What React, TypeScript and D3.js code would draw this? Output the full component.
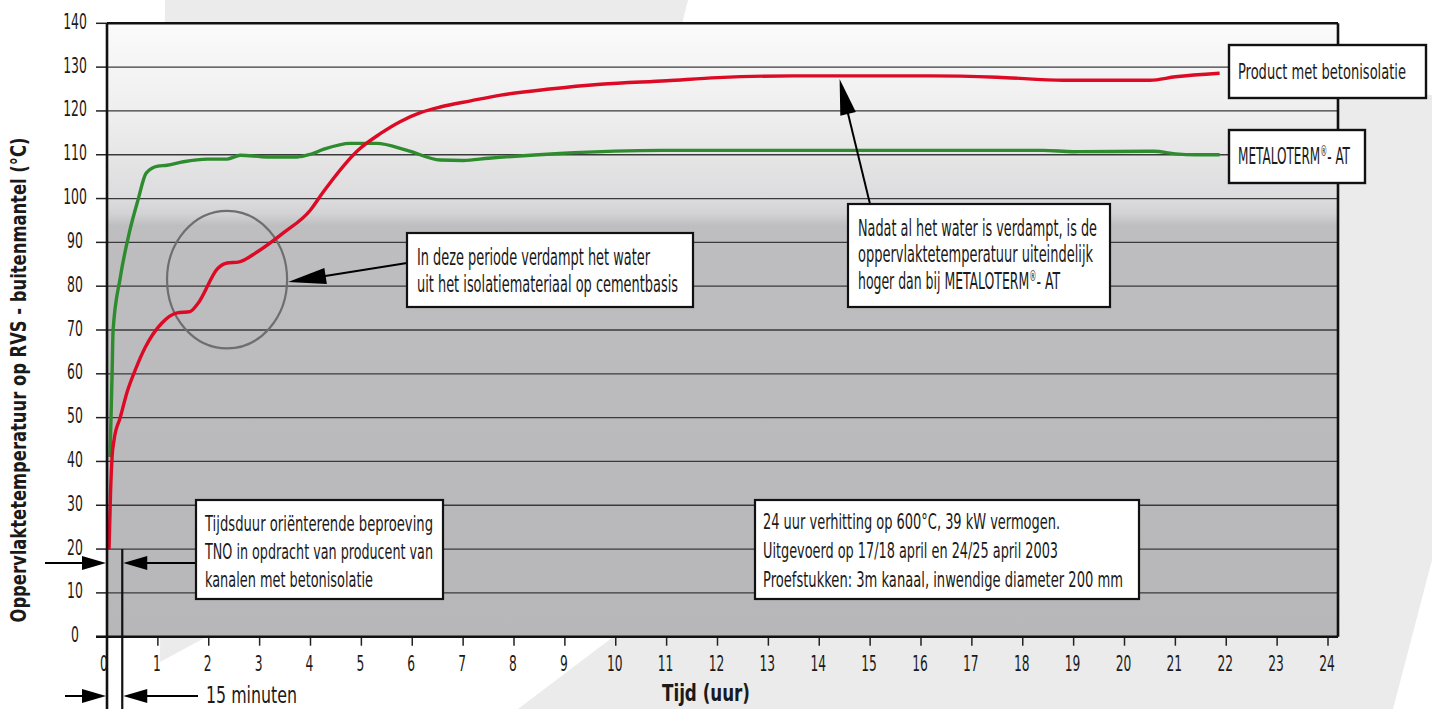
import React from "react";
import * as d3 from "d3";

const W = 1432;
const H = 709;

// ---- data ----
const xTickLabels = ["0","1","2","3","4","5","6","7","8","9","10","11","12","13","14","15","16","17","18","19","20","21","22","23","24"];
const yTickLabels = ["0","10","20","30","40","50","60","70","80","90","100","110","120","130","140"];

// Product met betonisolatie (red)
const redTime = [0.04, 0.07, 0.1, 0.14, 0.26, 0.4, 0.57, 0.75, 1.08, 1.38, 1.63, 1.79, 2.18, 2.36, 2.58, 2.95, 3.46, 4.0, 4.25, 4.94, 5.37, 5.77, 6.16, 6.55, 7.15, 7.74, 8.7, 9.7, 11.0, 12.0, 13.5, 16.2, 17.5, 18.8, 20.5, 21.0, 21.87];
const redTemp = [20, 33, 41, 45, 50, 56, 61.3, 66, 71.6, 73.9, 74.2, 76.1, 84.1, 85.3, 85.5, 87.8, 92.1, 97.4, 101.5, 111.1, 114.8, 117.6, 119.6, 120.9, 122.3, 123.6, 125, 126.1, 126.9, 127.6, 128, 128, 127.7, 127, 127, 127.8, 128.6];

// METALOTERM - AT (green)
const greenTime = [0.06, 0.1, 0.12, 0.26, 0.45, 0.61, 0.77, 1.0, 1.18, 1.5, 1.97, 2.36, 2.62, 3.15, 3.74, 4.0, 4.25, 4.78, 5.3, 5.9, 6.55, 7.0, 7.5, 8.9, 10.9, 14.0, 18.4, 19.0, 20.57, 21.0, 21.4, 21.87];
const greenTemp = [41, 60, 70, 81.9, 92.8, 99.7, 105.8, 107.4, 107.6, 108.4, 109, 109, 109.9, 109.5, 109.5, 110.1, 111.2, 112.6, 112.6, 111, 108.8, 108.7, 109.2, 110.3, 111, 111, 111, 110.7, 110.8, 110.2, 110, 110];

const FONT = "'Liberation Sans Narrow', 'DejaVu Sans Condensed', 'Roboto', 'Noto Sans', sans-serif";
const TXT = "#1a1a1a";

const x = d3.scaleLinear().domain([0, 24]).range([107, 1328]);
const y = d3.scaleLinear().domain([0, 140]).range([636.7, 23.3]);

const PL = 107, PT = 23.3, PR = 1338, PB = 636.7;

function Arrow({ x1, y1, x2, y2, head = 30, half = 8, sw = 2 }: any) {
  const dx = x2 - x1, dy = y2 - y1;
  const L = Math.hypot(dx, dy);
  const ux = dx / L, uy = dy / L;
  const bx = x2 - ux * head, by = y2 - uy * head;
  const px = -uy * half, py = ux * half;
  return (
    <g>
      <line x1={x1} y1={y1} x2={bx + ux * 2} y2={by + uy * 2} stroke="#000" strokeWidth={sw} />
      <polygon points={`${x2},${y2} ${bx + px},${by + py} ${bx - px},${by - py}`} fill="#000" />
    </g>
  );
}

function T({ x, y, len, size, children, weight = 400, anchor = "start", transform }: any) {
  return (
    <text
      x={x}
      y={y}
      fontFamily={FONT}
      fontSize={size}
      fontWeight={weight}
      fill={TXT}
      textLength={len}
      lengthAdjust="spacingAndGlyphs"
      textAnchor={anchor}
      transform={transform}
    >
      {children}
    </text>
  );
}

const Reg = ({ s }: any) => (
  <>
    <tspan fontSize={s * 0.58} dy={-s * 0.36}>®</tspan>
    <tspan dy={s * 0.36}>- AT</tspan>
  </>
);

export default function App() {
  const redPts: [number, number][] = redTime.map((t, i) => [t, redTemp[i]]);
  const greenPts: [number, number][] = greenTime.map((t, i) => [t, greenTemp[i]]);
  const line = d3
    .line<[number, number]>()
    .x((d) => x(d[0]))
    .y((d) => y(d[1]))
    .curve(d3.curveMonotoneX);

  const yVals = yTickLabels.map(Number);
  const xVals = xTickLabels.map(Number);

  return (
    <svg
      width={W}
      height={H}
      viewBox={`0 0 ${W} ${H}`}
      style={{ position: "absolute", left: 0, top: 0, display: "block", background: "#fff" }}
    >
      <defs>
        <linearGradient id="plotbg" gradientUnits="userSpaceOnUse" x1="0" y1={PT} x2="0" y2={PB}>
          <stop offset="0" stopColor="#fbfbfb" />
          <stop offset="0.16" stopColor="#ededed" />
          <stop offset="0.285" stopColor="#dcdcde" />
          <stop offset="0.31" stopColor="#d3d3d5" />
          <stop offset="0.33" stopColor="#bebec0" />
          <stop offset="1" stopColor="#b7b7b9" />
        </linearGradient>
      </defs>

      {/* background shapes */}
      <polygon points="165,0 688,0 579,436 160,662" fill="#ebebeb" />
      <polygon points="800,30 1432,95 1432,560 1393,709 518,709 613,637" fill="#ebebeb" />

      {/* plot area */}
      <rect x={PL} y={PT} width={PR - PL} height={PB - PT} fill="url(#plotbg)" />

      {/* grid + y ticks */}
      {yVals.map((v) => (
        <g key={v}>
          {v > 0 && v < 140 && (
            <line x1={PL} x2={PR} y1={y(v)} y2={y(v)} stroke="#3a3a3a" strokeWidth={1.3} />
          )}
          <line x1={96} x2={PL} y1={y(v)} y2={y(v)} stroke="#222" strokeWidth={1.5} />
          <T x={75} y={y(v) + 5.5} size={21} anchor="middle" len={String(v).length * 7.9}>
            {String(v)}
          </T>
        </g>
      ))}

      {/* x ticks */}
      {xVals.map((h) => (
        <g key={h}>
          {h > 0 && <line x1={x(h)} x2={x(h)} y1={PB} y2={PB + 9} stroke="#222" strokeWidth={1.5} />}
          <T x={x(h) - (h === 0 ? 3 : 1)} y={671} size={21} anchor="middle" len={String(h).length * 7.8}>
            {String(h)}
          </T>
        </g>
      ))}

      {/* annotation ellipse */}
      <ellipse cx={x(2.36)} cy={y(81.5)} rx={x(1.18) - x(0)} ry={y(0) - y(15.7)} fill="none" stroke="#6e6e6e" strokeWidth={2.2} />

      {/* curves */}
      <path d={line(greenPts) || ""} fill="none" stroke="#2e8b2e" strokeWidth={3.4} strokeLinejoin="round" />
      <path d={line(redPts) || ""} fill="none" stroke="#dc0a25" strokeWidth={3.4} strokeLinejoin="round" />

      {/* frame */}
      <line x1={PL} x2={PR} y1={PT} y2={PT} stroke="#111" strokeWidth={2.6} />
      <line x1={PR} x2={PR} y1={PT} y2={PB} stroke="#111" strokeWidth={2.6} />
      <line x1={96} x2={PR} y1={PB} y2={PB} stroke="#111" strokeWidth={2.6} />
      <line x1={PL} x2={PL} y1={PT} y2={H} stroke="#111" strokeWidth={2.6} />

      {/* 15 minute markers */}
      <line x1={x(0.3)} x2={x(0.3)} y1={y(20)} y2={H} stroke="#111" strokeWidth={2.2} />
      <Arrow x1={45} y1={563} x2={PL - 1} y2={563} head={24} half={7} />
      <Arrow x1={196} y1={563} x2={x(0.3) + 1} y2={563} head={24} half={7} />
      <Arrow x1={65} y1={696} x2={PL - 1} y2={696} head={24} half={7} />
      <Arrow x1={198} y1={696} x2={x(0.3) + 1} y2={696} head={24} half={7} />
      <T x={206} y={703} size={23} len={91}>15 minuten</T>

      {/* Box 1 */}
      <rect x={196} y={500} width={247} height={99} fill="#fff" stroke="#111" strokeWidth={2.2} />
      <T x={205} y={531} size={22} len={228}>Tijdsduur oriënterende beproeving</T>
      <T x={205} y={559} size={22} len={228}>TNO in opdracht van producent van</T>
      <T x={205} y={587} size={22} len={168}>kanalen met betonisolatie</T>

      {/* Box 4 */}
      <rect x={755} y={500} width={384} height={99} fill="#fff" stroke="#111" strokeWidth={2.2} />
      <T x={763} y={529} size={20.5} len={297}>24 uur verhitting op 600°C, 39 kW vermogen.</T>
      <T x={763} y={558} size={20.5} len={295}>Uitgevoerd op 17/18 april en 24/25 april 2003</T>
      <T x={763} y={587} size={20.5} len={360}>Proefstukken: 3m kanaal, inwendige diameter 200 mm</T>

      {/* Box 2 + arrow */}
      <Arrow x1={407} y1={263} x2={x(2.36) + (x(1.18) - x(0)) + 1} y2={282} head={38} half={8} />
      <rect x={407} y={233} width={286} height={74} fill="#fff" stroke="#111" strokeWidth={2.2} />
      <T x={417} y={265} size={23} len={233}>In deze periode verdampt het water</T>
      <T x={417} y={292} size={23} len={261}>uit het isolatiemateriaal op cementbasis</T>

      {/* Box 3 + arrow */}
      <Arrow x1={870} y1={204} x2={x(14.4)} y2={y(128) + 3} head={36} half={8} />
      <rect x={848} y={204} width={262} height={103} fill="#fff" stroke="#111" strokeWidth={2.2} />
      <T x={858} y={236} size={23} len={239}>Nadat al het water is verdampt, is de</T>
      <T x={858} y={262} size={23} len={235}>oppervlaktetemperatuur uiteindelijk</T>
      <T x={858} y={289} size={23} len={202}>
        hoger dan bij METALOTERM<Reg s={23} />
      </T>

      {/* Legend boxes */}
      <rect x={1229} y={45} width={197} height={53} fill="#fff" stroke="#111" strokeWidth={2.4} />
      <T x={1238} y={79} size={22} len={168}>Product met betonisolatie</T>
      <rect x={1229} y={130} width={136} height={53} fill="#fff" stroke="#111" strokeWidth={2.4} />
      <T x={1238} y={164} size={23} len={112}>
        METALOTERM<Reg s={23} />
      </T>

      {/* axis titles */}
      <T x={0} y={0} size={21} weight={700} anchor="middle" len={485} transform="translate(26,380) rotate(-90)">
        Oppervlaktetemperatuur op RVS - buitenmantel (°C)
      </T>
      <T x={706} y={701} size={23} weight={700} anchor="middle" len={88}>Tijd (uur)</T>
    </svg>
  );
}
